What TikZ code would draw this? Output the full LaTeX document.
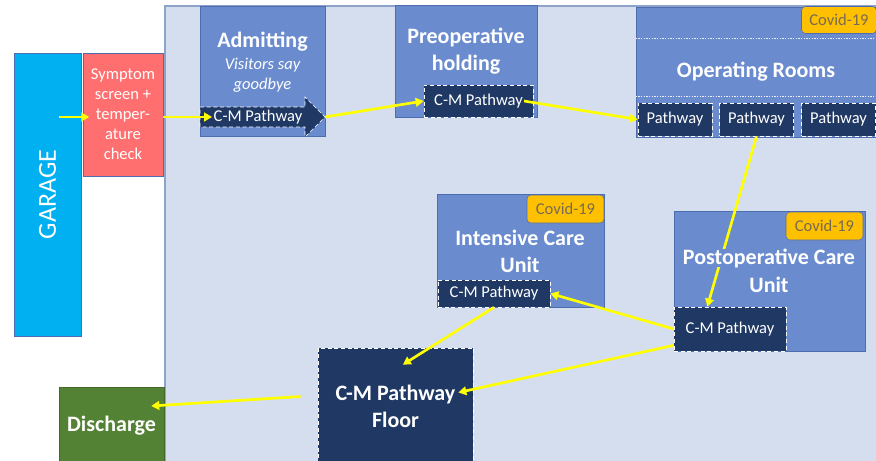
\documentclass[tikz,border=0pt]{standalone}
\usepackage{fontspec}
\setmainfont{Carlito}
\usetikzlibrary{arrows.meta,positioning}
\definecolor{ColorPanel}{HTML}{D5DEEF}
\definecolor{ColorPanelLine}{HTML}{8EA3CA}
\definecolor{ColorUnit}{HTML}{6A8CCF}
\definecolor{ColorUnitLine}{HTML}{4E6DAE}
\definecolor{ColorNavy}{HTML}{203864}
\definecolor{ColorGarage}{HTML}{00B0F0}
\definecolor{ColorScreen}{HTML}{FF6F6F}
\definecolor{ColorCovid}{HTML}{FFC000}
\definecolor{ColorCovidText}{HTML}{766B52}
\definecolor{ColorGreen}{HTML}{548235}
\definecolor{ColorFlow}{HTML}{FFFF00}
\tikzset{
  unit/.style={draw=ColorUnitLine, fill=ColorUnit, line width=0.6pt, inner sep=0pt},
  title/.style={text=white, font=\fontsize{16.5}{20.25}\selectfont\bfseries, align=center, inner sep=0pt},
  small/.style={font=\fontsize{12.4}{15}\selectfont},
  cmbox/.style={draw=white, densely dashed, line width=0.5pt, fill=ColorNavy, text=white, small, inner sep=0pt},
  covid/.style={draw=ColorUnitLine, fill=ColorCovid, rounded corners=3pt, text=ColorCovidText, small, inner sep=0pt, minimum width=57.75pt, minimum height=21pt},
  flow/.style={draw=ColorFlow, line width=2pt, -{Triangle[length=6pt,width=6.5pt]}},
  split/.style={white!85!ColorUnit, line width=0.35pt, dash pattern=on 1pt off 1pt},
}
\begin{document}
\begin{tikzpicture}[x=0.75pt, y=-0.75pt]
        \useasboundingbox (0,0) rectangle (876,461);
        %Panel
        \draw[fill=ColorPanel, draw=ColorPanelLine, line width=0.8pt] (165,6) rectangle (890,470);
        %Garage, screen
        \node[rotate=90, fill=ColorGarage, draw=ColorUnitLine, line width=0.6pt, minimum width=212.25pt, minimum height=50.25pt, text=white, font=\fontsize{19.5}{22}\selectfont] (gar) at (47.5,194.5) {GARAGE};
        \node[fill=ColorScreen, draw=ColorUnitLine, line width=0.6pt, minimum width=60pt, minimum height=92.25pt, inner sep=0pt, text=white, small, align=center] (scr) at (123,114.5) {Symptom\\screen +\\temper-\\ature\\check};
        %Admitting
        \node[unit, minimum width=93.75pt, minimum height=97.5pt] (adm) at (262.5,71) {};
        \node[title] (admt) at (262.5,42) {Admitting};
        \node[text=white, inner sep=0pt, align=center, font=\fontsize{12.4}{15}\selectfont\itshape] (admv) at (262.5,75) {Visitors say\\goodbye};
        \draw[fill=ColorNavy, draw=white, densely dashed, line width=0.5pt] (200,107) -- (305,107) -- (305,97) -- (325,117) -- (305,137) -- (305,127) -- (200,127) -- cycle;
        \node[text=white, small, inner sep=1pt] (admcm) at (258,117) {C-M Pathway};
        \coordinate (admtip) at (325,117);
        %Preoperative
        \node[unit, minimum width=106.5pt, minimum height=84pt] (pre) at (466,61) {};
        \node[title] (pret) at (466,51.5) {Preoperative\\holding};
        \node[cmbox, minimum width=81.75pt, minimum height=24pt] (precm) at (478.5,101) {C-M Pathway};
        %Operating rooms
        \node[unit, minimum width=181.5pt, minimum height=97.5pt] (orr) at (757,72) {};
        \draw[split] (orr.west |- 0,38) -- (orr.east |- 0,38);
        \draw[split] (orr.west |- 0,96) -- (orr.east |- 0,96);
        \node[title] (ort) at (756,72) {Operating Rooms};
        \node[covid, minimum width=56.25pt, minimum height=20.25pt] (orcov) at (839,20) {Covid-19};
        \foreach \i/\x in {1/675,2/756.5,3/838.5}
          \node[cmbox, minimum width=55.5pt, minimum height=24.75pt] (orp\i) at (\x,119.5) {Pathway};
        %ICU
        \node[unit, minimum width=125.25pt, minimum height=84.75pt] (icu) at (520.5,250.5) {};
        \node[covid] (icucov) at (565.5,209) {Covid-19};
        \node[title] (icut) at (520,251.5) {Intensive Care\\Unit};
        \node[cmbox, minimum width=84pt, minimum height=20.25pt] (icucm) at (494,293.5) {C-M Pathway};
        %PACU
        \node[unit, minimum width=143.25pt, minimum height=105pt] (pacu) at (769.5,281) {};
        \node[covid] (pacucov) at (824.5,226) {Covid-19};
        \node[cmbox, minimum width=84pt, minimum height=33pt] (pacucm) at (730,329) {C-M Pathway};
        %Floor, discharge
        \node[cmbox, font=\fontsize{16.5}{20.25}\selectfont\bfseries, align=center, minimum width=116.25pt, minimum height=87.75pt] (floor) at (395.5,406.5) {C-M Pathway\\Floor};
        \node[title, fill=ColorGreen, draw=ColorGreen!80!black, minimum width=78.75pt, minimum height=58.5pt] (dis) at (111.5,426) {Discharge};
        %Flow
        \draw[flow] ([xshift=-17.5pt]scr.west |- admcm) -- ([xshift=5pt]scr.west |- admcm);
        \draw[flow] (scr.east |- admcm) -- (admcm.west);
        \draw[flow] (admtip) -- (precm.west);
        \draw[flow] ([xshift=-7pt]precm.east) -- (orp1.west);
        \draw[flow] (orp2.south) -- ([xshift=-17pt]pacucm.north);
        \draw[flow] (pacucm.west) -- (icucm.east);
        \draw[flow] (icucm.south) -- ([xshift=5.5pt,yshift=-12.75pt]floor.north);
        \draw[flow] ([yshift=4.5pt]pacucm.south west) -- ([xshift=-11.25pt,yshift=10.5pt]floor.east);
        \draw[flow] ([xshift=-12.75pt,yshift=7.5pt]floor.west) -- ([xshift=-9.75pt,yshift=15pt]dis.east);
        %PACU title
        \node[title, fill=ColorUnit] (pacut) at (769,258) {Postoperative Care};
        \node[title] (pacuu) at (769,285) {Unit};
    \end{tikzpicture}
\end{document}
